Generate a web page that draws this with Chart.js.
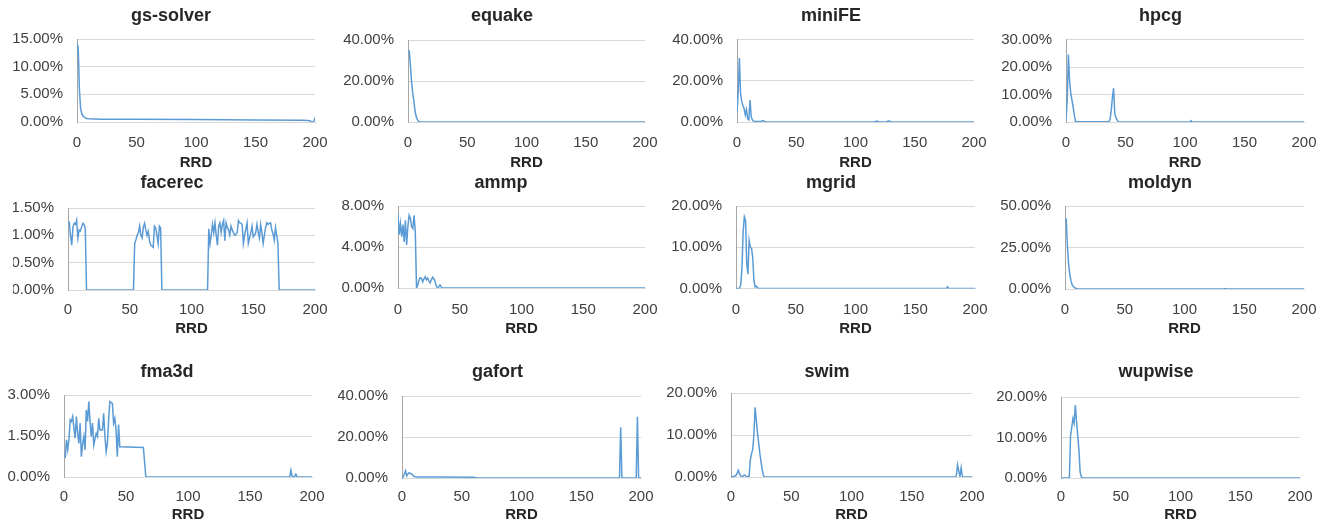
<!DOCTYPE html>
<html>
<head>
<meta charset="utf-8">
<script src="https://cdn.jsdelivr.net/npm/chart.js@4/dist/chart.umd.min.js"></script>
<style>
html,body{margin:0;padding:0;background:#fff;width:1331px;height:527px;overflow:hidden;position:relative}
canvas{position:absolute}
</style>
</head>
<body>
<script>
// ---------------- DATA (RRD on x, percentage on y) ----------------
const gsSolverRRD = [0,1,2,3,4,5,6,7,8,10,15,20,50,100,150,190,194,196,197,198,199,200];
const gsSolverPct = [14.2,13.5,6,2.5,1.5,1.1,0.9,0.75,0.65,0.58,0.53,0.5,0.48,0.44,0.38,0.32,0.28,0.2,0.05,0.03,0.05,0.8];

const equakeRRD = [1,2,3,4,5,6,7,8,9,10,12,200];
const equakePct = [35,28,19.5,14,10,5,2.5,1,0.3,0.1,0,0];

const miniFERRD = [0,1,2,3,4,5,6,7,8,9,10,11,12,13,14,16,20,22,24,116,118,120,126,128,130,200];
const miniFEPct = [5,14,31,14,10,8,6.5,3.5,6,1.5,1,10.7,2.5,1,0.4,0.3,0.3,0.7,0,0,0.5,0,0,0.6,0,0];

const hpcgRRD = [0,1,2,3,4,5,6,7,8,20,36,37,38,39,40,41,42,43,44,104,105,106,200];
const hpcgPct = [0.5,8,24.5,15,10.5,8,5.5,2.5,0.2,0.1,0.1,1,4,9,12.3,3,1.5,0.8,0,0,0.5,0,0];

const facerecRRD = [
  0,1,2,3,4,5,6,7,8,9,10,11,12,13,14,15,
  53,54,55,56,57,58,59,60,61,62,63,64,65,66,67,68,69,70,71,72,73,74,75,76,
  113,114,115,116,117,118,119,120,121,122,123,124,125,126,127,128,129,130,131,132,
  133,134,135,136,137,138,139,140,141,142,143,144,145,146,147,148,149,150,151,152,
  153,154,155,156,157,158,159,160,161,162,163,164,165,166,167,168,169,170,171,
  200];
const facerecPct = [
  1.25,1.24,1.0,0.82,1.15,1.22,1.2,1.28,0.95,1.1,1.08,1.15,1.22,1.2,1.12,0,
  0,0.85,0.92,1.0,1.05,1.17,1.0,0.95,1.15,1.22,1.1,1.0,1.07,0.9,0.82,0.8,0.78,1.17,1.14,1.0,0.85,1.17,1.14,0,
  0,1.12,0.85,1.0,1.2,1.05,1.23,1.0,0.82,1.17,1.23,1.05,1.2,1.27,0.9,1.23,1.15,1.1,1.0,1.17,
  1.1,1.05,1.0,1.02,1.05,1.27,1.23,1.22,1.2,0.85,1.0,1.12,1.23,0.85,0.95,1.05,1.17,0.97,1.0,1.05,
  1.2,1.05,0.95,1.2,1.05,0.85,1.0,1.14,1.23,1.2,1.22,1.23,1.1,1.03,0.91,1.14,1.0,0.85,0,
  0];

const ammpRRD = [0,1,2,3,4,5,6,7,8,9,10,11,12,13,14,15,16,17,18,19,20,21,22,23,24,25,26,27,28,29,30,31,32,33,34,35,36,200];
const ammpPct = [7.2,5.2,6.3,5.0,6.2,4.5,6.6,4.2,6.0,7.1,6.8,6.0,5.8,7.1,5.5,0,0.3,0.8,1.0,0.95,0.6,0.9,1.1,0.8,0.95,0.7,0.5,0.8,1.05,0.9,0.65,0.2,0,0.1,0.3,0.1,0,0];

const mgridRRD = [0,3,4,5,6,7,8,9,10,11,12,13,14,15,16,17,18,19,176,177,178,200];
const mgridPct = [0,0,1,5,14,17.4,16.5,6,3.5,11.7,10,9.7,7.5,2,0.4,0.6,0.2,0,0,0.4,0,0];

const moldynRRD = [1,2,3,4,5,6,7,8,9,10,12,133,134,135,200];
const moldynPct = [42.6,26,15,9,5,2.5,1.5,0.8,0.4,0.2,0,0,0.3,0,0];

const fma3dRRD = [1,2,3,4,5,6,7,8,9,10,11,12,13,14,15,16,17,18,19,20,21,22,23,24,25,26,27,28,29,30,31,32,33,34,35,36,37,38,39,40,41,42,43,44,45,64,66,182,183,184,186,187,188,200];
const fma3dPct = [0.7,1.36,1.0,1.4,2.09,2.03,2.21,1.8,1.42,2.21,1.6,1.23,1.97,0.74,1.2,1.48,0.99,2.45,2.03,2.76,2.03,1.48,1.97,1.17,1.4,1.6,1.48,2.15,1.72,1.72,1.72,2.33,1.5,0.93,1.23,2.09,2.76,2.72,2.7,1.97,2.15,1.72,0.74,1.92,1.11,1.08,0,0,0.25,0.02,0.02,0.1,0,0];

const gafortRRD = [0,1,2,3,4,5,6,7,8,9,10,11,12,30,60,63,182,183,184,196,197,198,200];
const gafortPct = [0,0.5,2,3.6,1.0,2,2.6,2.2,2.0,1.5,0.8,0.6,0.5,0.5,0.4,0,0,24.7,0,0,29.9,0,0];

const swimRRD = [0,2,4,5,6,7,8,9,10,11,12,13,15,16,17,18,19,20,21,22,23,24,25,26,27,28,186,187,188,189,190,191,192,193,200];
const swimPct = [0,0.1,0.3,0.8,1.6,0.8,0.3,0.1,0.2,0.5,0.3,0.1,0.1,4,5.5,6.5,10,16.6,13.5,10.5,8,5.5,3.5,1.6,0.3,0,0,0.3,2.9,1.5,0.1,2.2,0.2,0,0];

const wupwiseRRD = [0,6,7,8,9,10,11,12,13,14,15,16,17,18,200];
const wupwisePct = [0,0,0,10.5,12.5,14.7,13.5,18,14,10.5,7,1.5,0.3,0,0];

const panelTitles = ['gs-solver','equake','miniFE','hpcg','facerec','ammp','mgrid','moldyn','fma3d','gafort','swim','wupwise'];
const panelRRD = [gsSolverRRD,equakeRRD,miniFERRD,hpcgRRD,facerecRRD,ammpRRD,mgridRRD,moldynRRD,fma3dRRD,gafortRRD,swimRRD,wupwiseRRD];
const panelPct = [gsSolverPct,equakePct,miniFEPct,hpcgPct,facerecPct,ammpPct,mgridPct,moldynPct,fma3dPct,gafortPct,swimPct,wupwisePct];
const yAxisMax = [15,40,40,30,1.5,8,20,50,3,40,20,20];
const yAxisStep = [5,20,20,10,0.5,4,10,25,1.5,20,10,10];
const xAxisMax = 200;
const xAxisStep = 50;
const xAxisLabel = 'RRD';

// ---------------- LAYOUT (pixel frames of each small chart) ----------------
// [plotLeft, plotRight, plotTop, plotBottom, titleCenterX, titleCenterY, xTickCenterY, xTitleCenterY]
const frames = [
  [77,315,39,122,171,16,143,163],
  [408,645,40,122,502,16,143,163],
  [737,974,39.5,122,831,16,143,163],
  [1066,1304,39.5,122,1160.5,16,143,163],
  [68,315,208,290,172,183,310,329],
  [398,645,206,288,501,183,310,329],
  [736,975,206,288.5,831,183,310,329],
  [1065,1304,206,289,1160,183,310,329],
  [64,312,395,477,167,372,497,515],
  [402,641,396,478,497.5,372,497,515],
  [731,972,393,477,827,372,497,515],
  [1061,1300,397,478,1156,372,497,515]
];

const FONT = "'Liberation Sans', Arial, Helvetica, sans-serif";
const LINE_COLOR = '#5B9BD5';

panelTitles.forEach((title, i) => {
  const [L, R, T, B, tcx, tcy, xcy, rcy] = frames[i];
  const PR = 16;
  const right = R + PR;
  const left = Math.round(2 * tcx - right);
  const W = right - left;
  const YW = L - left;
  const top = Math.round(tcy - 16);
  const bottom = Math.round(rcy + 11);
  const H = bottom - top;
  const titleLH = 18 * 1.2;
  const tPadTop = (tcy - top) - titleLH / 2;
  const tPadBottom = (T - top) - tPadTop - titleLH;
  const xH = bottom - B;
  const xTickPad = xcy - B - 9;

  const c = document.createElement('canvas');
  c.width = W; c.height = H;
  c.style.left = left + 'px'; c.style.top = top + 'px';
  c.style.width = W + 'px'; c.style.height = H + 'px';
  document.body.appendChild(c);

  const data = panelRRD[i].map((x, k) => ({x: x, y: panelPct[i][k]}));

  new Chart(c, {
    type: 'line',
    data: { datasets: [{
      data: data,
      borderColor: LINE_COLOR,
      borderWidth: 1.5,
      pointRadius: 0,
      tension: 0,
      fill: false
    }]},
    options: {
      responsive: false,
      devicePixelRatio: 1,
      animation: false,
      layout: { padding: 0 },
      plugins: {
        legend: { display: false },
        tooltip: { enabled: false },
        title: {
          display: true,
          text: title,
          color: '#262626',
          font: { family: FONT, size: 18, weight: 'bold', lineHeight: 1.2 },
          padding: { top: tPadTop, bottom: tPadBottom }
        }
      },
      scales: {
        x: {
          type: 'linear',
          min: 0, max: xAxisMax,
          grid: { display: false, drawTicks: false },
          border: { display: true, color: '#D9D9D9', width: 1 },
          ticks: {
            stepSize: xAxisStep, autoSkip: false, maxRotation: 0,
            padding: xTickPad, color: '#404040',
            font: { family: FONT, size: 15 },
            callback: v => String(v)
          },
          title: {
            display: true, text: xAxisLabel, color: '#262626',
            font: { family: FONT, size: 15, weight: 'bold', lineHeight: 1.2 },
            padding: { top: 0, bottom: 2 }
          },
          afterFit: s => { s.height = xH; s.paddingLeft = 0; s.paddingRight = PR; }
        },
        y: {
          min: 0, max: yAxisMax[i],
          grid: { color: '#D9D9D9', lineWidth: 1, drawTicks: false },
          border: { display: true, color: '#A6A6A6', width: 1 },
          ticks: {
            stepSize: yAxisStep[i], padding: 14, color: '#404040',
            font: { family: FONT, size: 15 },
            callback: v => Number(v).toFixed(2) + '%'
          },
          afterFit: s => { s.width = YW; s.paddingTop = 0; s.paddingBottom = 0; }
        }
      }
    }
  });
});
</script>
</body>
</html>
